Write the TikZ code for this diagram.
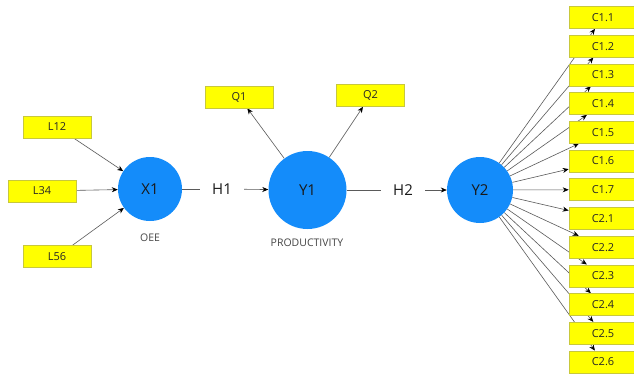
\documentclass[tikz,border=0pt]{standalone}
\usepackage{fontspec}
\setmainfont{Open Sans}
\usetikzlibrary{arrows.meta,backgrounds}
\definecolor{cblue}{RGB}{20,140,250}
\definecolor{byel}{RGB}{255,255,0}
\definecolor{bedge}{RGB}{200,200,60}
\definecolor{lgray}{RGB}{90,90,90}
\definecolor{tgray}{RGB}{70,70,70}
\begin{document}
\begin{tikzpicture}[x=1pt,y=-1pt,
  ind/.style={rectangle,fill=byel,draw=bedge,line width=0.6pt,minimum width=68pt,minimum height=22pt,inner sep=0pt,font=\fontsize{11}{13}\selectfont,text=black!85},
  lat/.style={circle,fill=cblue,draw=none,inner sep=0pt,font=\fontsize{15}{17}\selectfont,text=black!90},
  hyp/.style={fill=white,inner xsep=12pt,inner ysep=2pt,font=\fontsize{15}{17}\selectfont,text=black!90},
  latcaption/.style={font=\fontsize{10.5}{12}\selectfont,text=tgray},
  conn/.style={draw=lgray,line width=0.6pt,-{Stealth[length=6pt,width=5pt,black]}},
  plain/.style={draw=lgray,line width=0.6pt}]
\useasboundingbox (0,0) rectangle (634,373);
% latent variables
\node[lat,minimum size=64pt] (X1) at (150,189) {X1};
\node[lat,minimum size=78pt] (Y1) at (307.5,190) {Y1};
\node[lat,minimum size=66pt] (Y2) at (480,190) {Y2};
\node[latcaption] (oee) at (150,238) {OEE};
\node[latcaption] (prod) at (307,243) {PRODUCTIVITY};
% hypotheses
\node[hyp] (H1) at (222,189) {H1};
\node[hyp] (H2) at (403,190) {H2};
% indicators of X1
\node[ind] (L12) at (57,127) {L12};
\node[ind] (L34) at (42,191) {L34};
\node[ind] (L56) at (57,256.5) {L56};
% indicators of Y1
\node[ind] (Q1) at (239,97) {Q1};
\node[ind] (Q2) at (370.5,95.5) {Q2};
% indicators of Y2
\foreach \n/\k in {C1.1/0,C1.2/1,C1.3/2,C1.4/3,C1.5/4,C1.6/5,C1.7/6,C2.1/7,C2.2/8,C2.3/9,C2.4/10,C2.5/11,C2.6/12}{
  \node[ind] (c\k) at (603,{17.5+28.7*\k}) {\n};
}
\begin{pgfonlayer}{background}
\fill[white] (0,0) rectangle (634,373);
\draw[conn] (L12) -- (X1);
\draw[conn] (L34) -- (X1);
\draw[conn] (L56) -- (X1);
\draw[plain] (X1) -- (H1);
\draw[conn] (H1) -- (Y1);
\draw[conn] (Y1) -- (Q1);
\draw[conn] (Y1) -- (Q2);
\draw[plain] (Y1) -- (H2);
\draw[conn] (H2) -- (Y2);
\foreach \k in {0,...,12}{
  \draw[conn] (Y2) -- (c\k);
}
\end{pgfonlayer}
\end{tikzpicture}
\end{document}
